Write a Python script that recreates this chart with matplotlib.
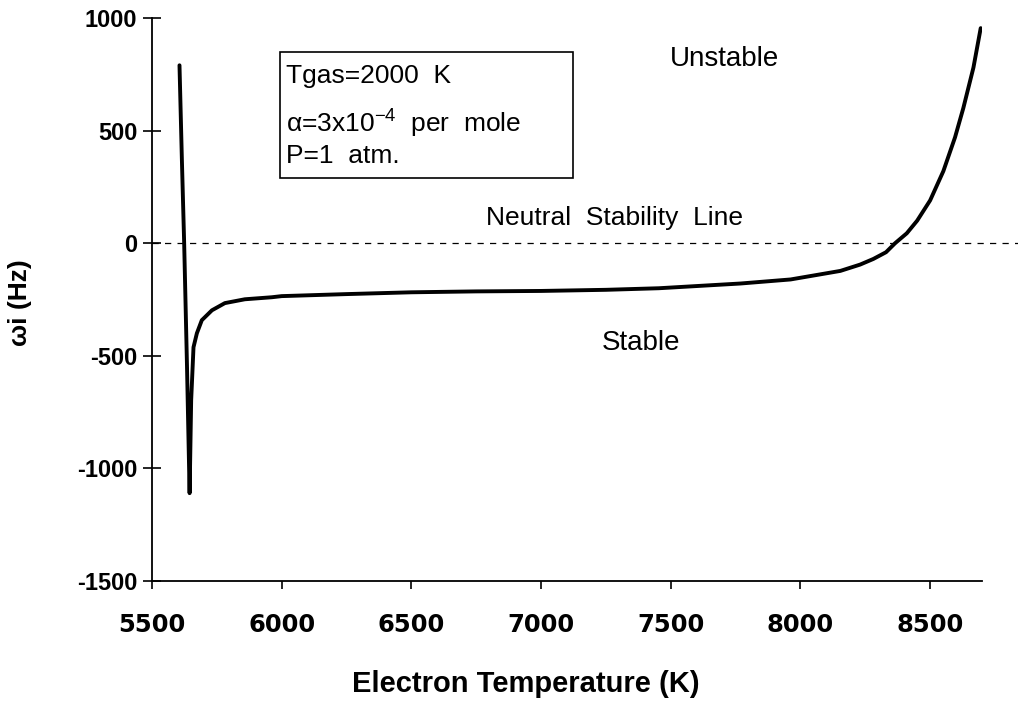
import matplotlib
matplotlib.use("Agg")
import matplotlib.pyplot as plt
from matplotlib.patches import Rectangle
import matplotlib.transforms as mtransforms

plt.rcParams['font.family'] = ['Liberation Sans', 'DejaVu Sans']
plt.rcParams['mathtext.fontset'] = 'custom'
plt.rcParams['mathtext.rm'] = 'Liberation Sans'
plt.rcParams['mathtext.it'] = 'Liberation Sans:italic'
plt.rcParams['mathtext.bf'] = 'Liberation Sans:bold'
plt.rcParams['axes.unicode_minus'] = False

# Electron temperature (K) and growth rate omega_i (Hz)
temperature = [5606, 5615, 5624, 5635, 5645, 5651, 5660, 5673, 5692, 5731,
               5781, 5858, 5962, 6000, 6250, 6500, 6750, 7000, 7250, 7454,
               7769, 7962, 8154, 8230, 8281, 8330, 8365, 8410, 8450, 8500,
               8551, 8596, 8628, 8667, 8695]
omega_i = [790, 380, 0, -550, -1110, -697, -462, -400, -342, -298,
           -266, -249, -240, -235, -226, -218, -214, -212, -207, -200,
           -179, -161, -123, -95, -70, -40, 0, 44, 100, 190,
           320, 470, 600, 780, 955]

xticks = [5500, 6000, 6500, 7000, 7500, 8000, 8500]
yticks = [-1500, -1000, -500, 0, 500, 1000]

fig = plt.figure(figsize=(10.18, 7.03), dpi=100)
ax = fig.add_axes([152/1018, 1-581/703, 830/1018, 563/703])

ax.plot(temperature, omega_i, color='black', lw=2.8, solid_joinstyle='round',
        solid_capstyle='round')

# neutral stability dashed line extending slightly beyond the axes
trans = mtransforms.blended_transform_factory(ax.transAxes, ax.transData)
ax.plot([0, 1.043], [0, 0], transform=trans, color='black', lw=0.9,
        ls=(0, (5, 5)), clip_on=False)

ax.set_xlim(5500, 8700)
ax.set_ylim(-1500, 1000)
ax.set_xticks(xticks)
ax.set_yticks(yticks)

for s in ['top', 'right']:
    ax.spines[s].set_visible(False)
for s in ['left', 'bottom']:
    ax.spines[s].set_linewidth(1.3)

ax.tick_params(axis='x', direction='out', length=6, width=1.2, pad=17)
ax.tick_params(axis='y', direction='inout', length=13, width=1.2, pad=4)
for lab in ax.get_xticklabels():
    lab.set_fontfamily('DejaVu Sans')
    lab.set_fontweight('bold')
    lab.set_fontsize(17.5)
for lab in ax.get_yticklabels():
    lab.set_fontweight('bold')
    lab.set_fontsize(17)

ax.set_xlabel('Electron Temperature (K)', fontsize=21, fontweight='bold')
ax.xaxis.set_label_coords((526 - 152) / 830, (581 - 692) / 563)
ax.xaxis.label.set_va('baseline')
ax.set_ylabel('ωi (Hz)', fontsize=19, fontweight='bold')
ax.yaxis.set_label_coords((20 - 152) / 830, (581 - 303) / 563)
ax.yaxis.label.set_va('center')

# annotations
ax.text(7708, 786, 'Unstable', fontsize=20, ha='center', va='baseline')
ax.text(7285, 80, 'Neutral  Stability  Line', fontsize=19, ha='center',
        va='baseline')
ax.text(7385, -475, 'Stable', fontsize=20, ha='center', va='baseline')

# parameter box
ax.add_patch(Rectangle((0.154, 0.716), 0.353, 0.224, transform=ax.transAxes,
                       fill=False, edgecolor='black', lw=1.2))
ax.text(0.161, 0.885, 'Tgas=2000  K', transform=ax.transAxes, fontsize=19,
        va='baseline')
ax.text(0.161, 0.796, 'α=3x10$^{\\mathregular{-4}}$  per  mole',
        transform=ax.transAxes, fontsize=19, va='baseline')
ax.text(0.161, 0.742, 'P=1  atm.', transform=ax.transAxes, fontsize=19,
        va='baseline')

fig.savefig('out.png', dpi=100)
